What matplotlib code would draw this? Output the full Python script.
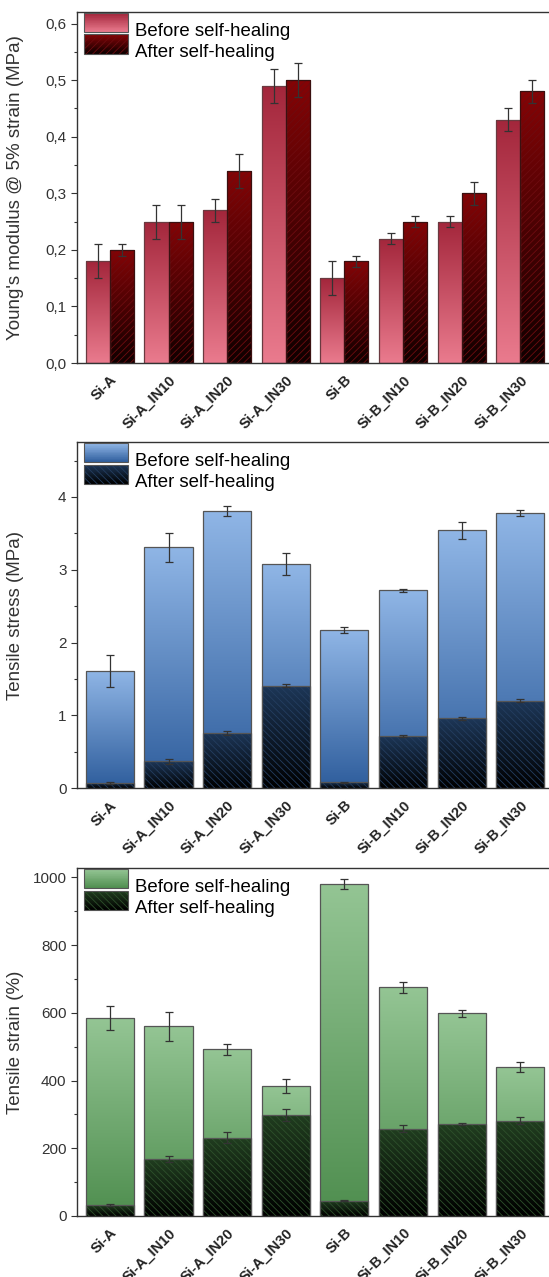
import numpy as np
import matplotlib
matplotlib.use("Agg")
import matplotlib.pyplot as plt
from matplotlib.colors import LinearSegmentedColormap
from matplotlib.patches import Rectangle
from matplotlib.legend_handler import HandlerBase
from matplotlib.ticker import MultipleLocator, FuncFormatter

plt.rcParams['font.family'] = ['Liberation Sans', 'DejaVu Sans']
plt.rcParams['hatch.linewidth'] = 0.6

samples = ['Si-A', 'Si-A_IN10', 'Si-A_IN20', 'Si-A_IN30',
           'Si-B', 'Si-B_IN10', 'Si-B_IN20', 'Si-B_IN30']

# Young's modulus @ 5% strain (MPa)
young_before = [0.18, 0.25, 0.27, 0.49, 0.15, 0.22, 0.25, 0.43]
young_before_err = [0.03, 0.03, 0.02, 0.03, 0.03, 0.01, 0.01, 0.02]
young_after = [0.20, 0.25, 0.34, 0.50, 0.18, 0.25, 0.30, 0.48]
young_after_err = [0.01, 0.03, 0.03, 0.03, 0.01, 0.01, 0.02, 0.02]

# tensile stress (MPa)
stress_before = [1.61, 3.31, 3.81, 3.08, 2.17, 2.72, 3.54, 3.78]
stress_before_err = [0.22, 0.20, 0.07, 0.15, 0.04, 0.02, 0.12, 0.04]
stress_after = [0.07, 0.37, 0.76, 1.41, 0.08, 0.72, 0.96, 1.20]
stress_after_err = [0.01, 0.03, 0.03, 0.02, 0.01, 0.01, 0.02, 0.02]

# tensile strain (%)
strain_before = [584, 560, 493, 385, 981, 675, 599, 440]
strain_before_err = [35, 42, 16, 21, 15, 15, 10, 14]
strain_after = [32, 168, 231, 299, 45, 258, 271, 282]
strain_after_err = [3, 8, 16, 17, 2, 10, 3, 10]

EDGE = '#555555'
ERR = '#333333'


def grad_cmap(c_bot, c_top):
    return LinearSegmentedColormap.from_list('g', [c_bot, c_top])


def gradient_bars(ax, xs, hs, width, c_bot, c_top, hatch=None, hatch_color=None, edge=EDGE, z=2):
    cmap = grad_cmap(c_bot, c_top)
    grad = np.linspace(0, 1, 256).reshape(-1, 1)
    bars = ax.bar(xs, hs, width, facecolor='none', edgecolor=edge, linewidth=0.9, zorder=z + 0.2)
    for b in bars:
        x0, w, h = b.get_x(), b.get_width(), b.get_height()
        im = ax.imshow(grad, cmap=cmap, origin='lower', aspect='auto',
                       extent=[x0, x0 + w, 0, h], zorder=z, interpolation='bicubic')
        im.set_clip_path(b)
    if hatch:
        ax.bar(xs, hs, width, facecolor='none', edgecolor=hatch_color, linewidth=0,
               hatch=hatch, zorder=z + 0.1)
    return bars


class GradientHandler(HandlerBase):
    def __init__(self, c_bot, c_top, hatch=None, hatch_color=None):
        super().__init__()
        self.cmap = grad_cmap(c_bot, c_top)
        self.hatch = hatch
        self.hatch_color = hatch_color

    def legend_artist(self, legend, orig_handle, fontsize, handlebox):
        x0, y0 = handlebox.xdescent, handlebox.ydescent
        w, h = handlebox.width, handlebox.height
        tr = handlebox.get_transform()
        n = 30
        for i in range(n):
            r = Rectangle((x0, y0 + i * h / n), w, h / n * 1.05,
                          facecolor=self.cmap(i / (n - 1)), edgecolor='none', transform=tr)
            handlebox.add_artist(r)
        if self.hatch:
            hr = Rectangle((x0, y0), w, h, facecolor='none', edgecolor=self.hatch_color,
                           linewidth=0, hatch=self.hatch, transform=tr)
            handlebox.add_artist(hr)
        border = Rectangle((x0, y0), w, h, facecolor='none', edgecolor=EDGE,
                           linewidth=0.8, transform=tr)
        handlebox.add_artist(border)
        return border


def style_axes(ax, ylim, major, ylabel, fmt=None):
    ax.set_xlim(-0.56, 7.5)
    ax.set_ylim(*ylim)
    ax.set_xticks(np.arange(len(samples)))
    ax.set_xticklabels(samples, rotation=45, ha='right', rotation_mode='anchor',
                       fontsize=10.5, fontweight='bold', color='#222222')
    ax.tick_params(axis='x', length=0, pad=7)
    ax.yaxis.set_major_locator(MultipleLocator(major))
    ax.yaxis.set_minor_locator(MultipleLocator(major / 2))
    ax.tick_params(axis='y', which='major', length=4, width=0.8, labelsize=11, colors='#333333')
    ax.tick_params(axis='y', which='minor', length=2.5, width=0.8, colors='#333333')
    if fmt:
        ax.yaxis.set_major_formatter(FuncFormatter(fmt))
    ax.set_ylabel(ylabel, fontsize=13.5, color='#333333')
    ax.yaxis.set_label_coords(-0.112, 0.5)
    for s in ax.spines.values():
        s.set_color('#333333')
        s.set_linewidth(1.0)


def add_legend(ax, before_h, after_h):
    h1 = Rectangle((0, 0), 1, 1)
    h2 = Rectangle((0, 0), 1, 1)
    ax.legend([h1, h2], ['Before self-healing', 'After self-healing'],
              handler_map={h1: before_h, h2: after_h},
              loc='upper left', frameon=False, fontsize=13.4,
              handlelength=2.35, handleheight=1.2, handletextpad=0.35,
              labelspacing=0.08, borderaxespad=0.25, borderpad=0.15)


fig = plt.figure(figsize=(5.49, 12.77), dpi=100)
left, width = 0.1403, 0.861
ax1 = fig.add_axes([left, 0.7157, width, 0.2747])
ax2 = fig.add_axes([left, 0.3827, width, 0.2709])
ax3 = fig.add_axes([left, 0.0478, width, 0.2722])

x = np.arange(len(samples))
comma = lambda v, p: f'{v:.1f}'.replace('.', ',')

# panel 1 - Young's modulus, grouped bars
pb = ('#ea7b8e', '#a3263b')
pa = ('#0f0000', '#860406')
gradient_bars(ax1, x - 0.205, young_before, 0.41, *pb, edge='#6a3a40')
gradient_bars(ax1, x + 0.205, young_after, 0.41, *pa, hatch='/////', hatch_color='#6e0c10', edge='#3a1010')
ax1.errorbar(x - 0.205, young_before, yerr=young_before_err, fmt='none', ecolor=ERR,
             elinewidth=0.9, capsize=3, capthick=0.9, zorder=5)
ax1.errorbar(x + 0.205, young_after, yerr=young_after_err, fmt='none', ecolor=ERR,
             elinewidth=0.9, capsize=3, capthick=0.9, zorder=5)
style_axes(ax1, (0, 0.62), 0.1, "Young's modulus @ 5% strain (MPa)", comma)
add_legend(ax1, GradientHandler(*pb), GradientHandler(*pa, hatch='/////', hatch_color='#6e0c10'))

# panel 2 - tensile stress, overlaid bars
bb = ('#2e5d9c', '#90b6e6')
ba = ('#000000', '#1d3758')
gradient_bars(ax2, x, stress_before, 0.82, *bb)
gradient_bars(ax2, x, stress_after, 0.82, *ba, hatch='\\\\\\\\\\', hatch_color='#243e60', z=3)
ax2.errorbar(x, stress_before, yerr=stress_before_err, fmt='none', ecolor=ERR,
             elinewidth=0.9, capsize=3, capthick=0.9, zorder=5)
ax2.errorbar(x, stress_after, yerr=stress_after_err, fmt='none', ecolor=ERR,
             elinewidth=0.9, capsize=3, capthick=0.9, zorder=5)
style_axes(ax2, (0, 4.75), 1, 'Tensile stress (MPa)', lambda v, p: f'{v:.0f}')
add_legend(ax2, GradientHandler(*bb), GradientHandler(*ba, hatch='\\\\\\\\\\', hatch_color='#243e60'))

# panel 3 - tensile strain, overlaid bars
gb = ('#4f8e4f', '#94c594')
ga = ('#000000', '#213e20')
gradient_bars(ax3, x, strain_before, 0.82, *gb)
gradient_bars(ax3, x, strain_after, 0.82, *ga, hatch='\\\\\\\\\\', hatch_color='#2e512c', z=3)
ax3.errorbar(x, strain_before, yerr=strain_before_err, fmt='none', ecolor=ERR,
             elinewidth=0.9, capsize=3, capthick=0.9, zorder=5)
ax3.errorbar(x, strain_after, yerr=strain_after_err, fmt='none', ecolor=ERR,
             elinewidth=0.9, capsize=3, capthick=0.9, zorder=5)
style_axes(ax3, (0, 1027), 200, 'Tensile strain (%)', lambda v, p: f'{v:.0f}')
add_legend(ax3, GradientHandler(*gb), GradientHandler(*ga, hatch='\\\\\\\\\\', hatch_color='#2e512c'))

fig.savefig('out.png', dpi=100)
